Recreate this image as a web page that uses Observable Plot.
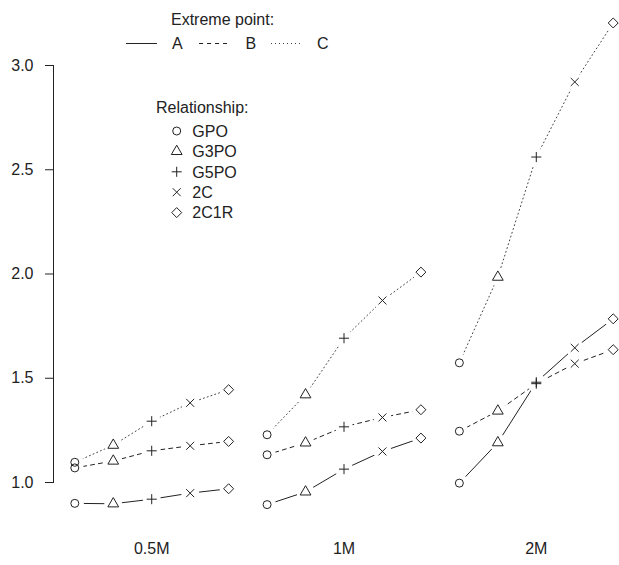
<!DOCTYPE html>
<html><head><meta charset="utf-8">
<script src="https://cdn.jsdelivr.net/npm/d3@7"></script>
<script src="https://cdn.jsdelivr.net/npm/@observablehq/plot@0.6"></script>
<style>
body{margin:0;background:#fff;}
#wrap{position:relative;width:619px;height:565px;font-family:"Liberation Sans",Arial,sans-serif;}
#legend{position:absolute;left:0;top:0;pointer-events:none;}
</style></head><body><div id="wrap"></div>
<script>
// ---- data ----
const groups = ["0.5M", "1M", "2M"];
const relationships = ["GPO", "G3PO", "G5PO", "2C", "2C1R"];
const extremes = ["A", "B", "C"];

const extremeA_05 = [0.900, 0.898, 0.920, 0.949, 0.970];
const extremeA_1  = [0.894, 0.955, 1.064, 1.149, 1.213];
const extremeA_2  = [0.997, 1.191, 1.481, 1.646, 1.785];

const extremeB_05 = [1.070, 1.103, 1.152, 1.176, 1.197];
const extremeB_1  = [1.133, 1.190, 1.267, 1.312, 1.349];
const extremeB_2  = [1.246, 1.343, 1.474, 1.570, 1.637];

const extremeC_05 = [1.097, 1.179, 1.294, 1.382, 1.445];
const extremeC_1  = [1.229, 1.421, 1.692, 1.873, 2.009];
const extremeC_2  = [1.574, 1.985, 2.561, 2.921, 3.204];

const yTicks = [1.0, 1.5, 2.0, 2.5, 3.0];

// ---- build table ----
const series = {
  A: [extremeA_05, extremeA_1, extremeA_2],
  B: [extremeB_05, extremeB_1, extremeB_2],
  C: [extremeC_05, extremeC_1, extremeC_2]
};
const rows = [];
extremes.forEach(ext => {
  series[ext].forEach((vals, gi) => {
    vals.forEach((v, ri) => {
      rows.push({ext, group: groups[gi], rel: relationships[ri], idx: gi * relationships.length + ri + 1, value: v});
    });
  });
});
const nIdx = groups.length * relationships.length;
const groupCenters = groups.map((g, i) => i * relationships.length + (relationships.length + 1) / 2);

// ---- styles ----
const ink = "#222";
const dash = {A: null, B: "4,4", C: "1,3"};
const lineColor = {A: ink, B: ink, C: "#444"};
const symType = {GPO: "circle", G3PO: "triangle", G5PO: "plus", "2C": "times", "2C1R": "diamond2"};
const symR = {GPO: 4, G3PO: 4, G5PO: 3.35, "2C": 3.7, "2C1R": 4.5};

const marks = [
  Plot.frame({anchor: "left", stroke: ink}),
  Plot.axisY({ticks: yTicks, tickFormat: d3.format(".1f"), tickSize: 8, tickPadding: 12, label: null, fontSize: 16}),
  Plot.axisX({ticks: groupCenters, tickFormat: (d) => groups[groupCenters.indexOf(d)], tickSize: 0, tickPadding: 60, label: null, fontSize: 16}),
  ...extremes.map(ext => Plot.line(rows.filter(d => d.ext === ext), {
    x: "idx", y: "value", z: "group", stroke: lineColor[ext], strokeWidth: 1,
    strokeDasharray: dash[ext] || undefined
  })),
  Plot.dot(rows, {x: "idx", y: "value", r: 9, fill: "white", stroke: null}),
  ...relationships.map(rel => Plot.dot(rows.filter(d => d.rel === rel), {
    x: "idx", y: "value", symbol: symType[rel], r: symR[rel], stroke: ink, fill: "none", strokeWidth: 1
  }))
];

const chart = Plot.plot({
  width: 619, height: 565,
  marginLeft: 53, marginRight: 0, marginTop: 65, marginBottom: 83,
  style: {fontFamily: "'Liberation Sans', Arial, sans-serif", fontSize: "16px", color: ink, background: "white"},
  x: {domain: [1, nIdx], range: [74.3, 612.7], axis: null},
  y: {domain: [1, 3], axis: null},
  marks
});
document.getElementById("wrap").appendChild(chart);

// ---- legends (overlay) ----
const leg = d3.select("#wrap").append("svg").attr("id", "legend").attr("width", 619).attr("height", 240)
  .style("font-family", "'Liberation Sans', Arial, sans-serif").style("font-size", "16px");
leg.append("text").attr("x", 171).attr("y", 24.5).attr("fill", ink).text("Extreme point:");
const extItems = [{x0: 126, x1: 157, tx: 172}, {x0: 199, x1: 229, tx: 245.5}, {x0: 271, x1: 300, tx: 317}];
extremes.forEach((ext, i) => {
  const it = extItems[i];
  leg.append("line").attr("x1", it.x0).attr("x2", it.x1).attr("y1", 43.5).attr("y2", 43.5)
    .attr("stroke", lineColor[ext]).attr("stroke-width", 1).attr("stroke-dasharray", dash[ext]);
  leg.append("text").attr("x", it.tx).attr("y", 49.3).attr("fill", ink).text(ext);
});
leg.append("text").attr("x", 156).attr("y", 112.5).attr("fill", ink).text("Relationship:");
const d3Sym = {circle: d3.symbolCircle, triangle: d3.symbolTriangle, plus: d3.symbolPlus, times: d3.symbolTimes, diamond2: d3.symbolDiamond2};
relationships.forEach((rel, i) => {
  const base = 136.8 + i * 20.4;
  const r = symR[rel];
  leg.append("path").attr("transform", `translate(176.7,${base - 5.8})`)
    .attr("d", d3.symbol(d3Sym[symType[rel]], Math.PI * r * r)())
    .attr("fill", "none").attr("stroke", ink).attr("stroke-width", 1);
  leg.append("text").attr("x", 192.3).attr("y", base).attr("fill", ink).text(rel);
});
</script>
</body></html>
